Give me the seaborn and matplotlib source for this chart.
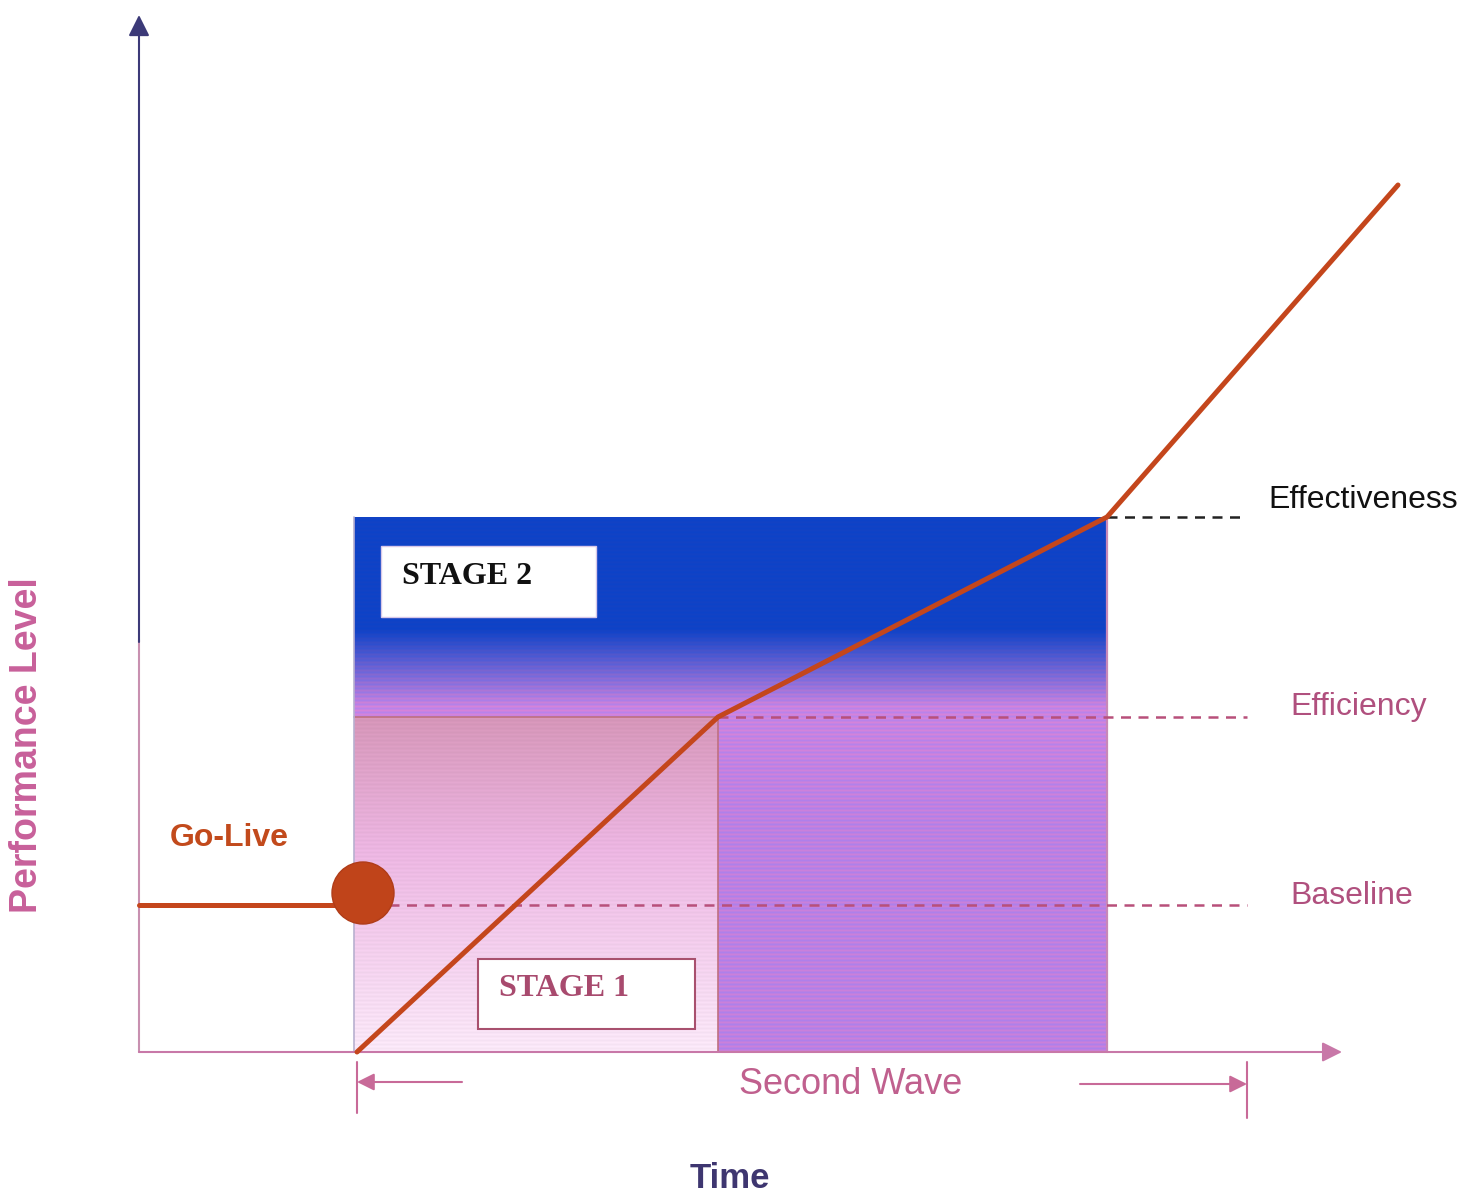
import numpy as np
import pandas as pd
import matplotlib
matplotlib.use("Agg")
import matplotlib.pyplot as plt
import seaborn as sns
from matplotlib.patches import Rectangle, Circle

# Performance path over time (conceptual units)
path_time = [0.0, 2.18, 2.18, 5.79, 9.68, 12.59]
path_level = [1.47, 1.47, 0.0, 3.35, 5.35, 8.67]
path_segment = ["pre", "pre", "wave", "wave", "wave", "wave"]

# Reference performance levels
level_names = ["Effectiveness", "Efficiency", "Baseline"]
level_values = [5.35, 3.35, 1.47]
level_line_start = [9.68, 5.79, 2.50]
level_colors = ["#222222", "#b8507a", "#b8507a"]
level_text_colors = ["#111111", "#b0507e", "#b0507e"]
level_text_x = [11.29, 11.51, 11.51]
level_text_offset = [0.17, 0.10, 0.09]

# Stage boundaries in time
go_live_t = 2.18
stage1_end = 5.79
stage2_end = 9.68
wave_end = 11.08

sns.set_theme(style="white")
plt.rcParams["font.family"] = ["Liberation Sans", "DejaVu Sans"]

fig = plt.figure(figsize=(14.65, 12), dpi=100)
ax = fig.add_axes([0, 0, 1, 1])
ax.set_xlim(-1.39, 13.26)
ax.set_ylim(-1.48, 10.52)
ax.axis("off")

top_y = level_values[0]
eff_y = level_values[1]

# --- Stage 2 block: vertical gradient from deep blue at top to violet ---
h = 535
blue = np.array([16, 66, 198]) / 255
violet_top = np.array([200, 132, 226]) / 255
violet = np.array([188, 128, 226]) / 255
stripe = np.array([14, 0, -8]) / 255
img = np.zeros((h, 1, 3))
for i in range(h):
    d = (1 - i / (h - 1)) * 535              # distance below the top edge
    if d < 112:
        c = blue
        s = 0.2
    elif d < 190:
        f = (d - 112) / 78
        c = blue * (1 - f) + violet_top * f
        s = 0.2 + 0.8 * f
    else:
        f = min((d - 190) / 120, 1)
        c = violet_top * (1 - f) + violet * f
        s = 1.0
    # printed-gradient banding: alternating pinkish and bluish rows
    c = c + s * stripe * np.sin(i * np.pi / 2.0)
    img[i, 0] = c
img = np.clip(img, 0, 1)
ax.imshow(img, extent=[2.15, stage2_end, 0, top_y], origin="lower",
          aspect="auto", interpolation="nearest", zorder=1)

# --- Stage 1 block: dusty rose fading to pale pink ---
h1 = 335
rose = np.array([214, 150, 185]) / 255
mid = np.array([236, 182, 226]) / 255
pale = np.array([250, 232, 248]) / 255
img1 = np.zeros((h1, 1, 3))
for i in range(h1):
    f = i / (h1 - 1)                          # 0 bottom .. 1 top
    if f > 0.6:
        g = (f - 0.6) / 0.4
        c = mid * (1 - g) + rose * g
    else:
        g = f / 0.6
        c = pale * (1 - g) + mid * g
    img1[i, 0] = c
band1 = 1 + 0.015 * np.sin(np.arange(h1) * np.pi / 2.0)[:, None, None]
img1 = np.clip(img1 * band1, 0, 1)
ax.imshow(img1, extent=[2.15, stage1_end, 0, eff_y], origin="lower",
          aspect="auto", interpolation="nearest", zorder=2)
ax.plot([2.15, stage1_end, stage1_end], [eff_y, eff_y, 0], color="#c07080",
        lw=1.2, zorder=3)
ax.plot([stage2_end, stage2_end], [0, top_y], color="#c888b8", lw=1.6, zorder=3)
ax.plot([2.15, 2.15], [0, top_y], color="#b8b0d0", lw=1.2, zorder=3)

ax.set_xlim(-1.39, 13.26)
ax.set_ylim(-1.48, 10.52)

# --- Axes with arrow heads ---
ax.plot([0, 0], [0, 4.12], color="#c890b0", lw=1.5, zorder=4)
ax.annotate("", xy=(0, 10.37), xytext=(0, 4.10),
            arrowprops=dict(arrowstyle="-|>", color="#3c3a78", lw=1.5,
                            mutation_scale=32, shrinkA=0, shrinkB=0), zorder=4)
ax.annotate("", xy=(12.03, 0), xytext=(0, 0),
            arrowprops=dict(arrowstyle="-|>", color="#c878a8", lw=1.5,
                            mutation_scale=30, shrinkA=0, shrinkB=0), zorder=4)

# --- Reference level dashed lines and labels ---
for name, val, start, lc, tc, tx, off in zip(level_names, level_values,
                                             level_line_start, level_colors,
                                             level_text_colors, level_text_x,
                                             level_text_offset):
    seg = pd.DataFrame({"t": [start, wave_end], "v": [val, val]})
    sns.lineplot(data=seg, x="t", y="v", ax=ax, color=lc, lw=1.8,
                 linestyle=(0, (4, 3)), zorder=5)
    ax.text(tx, val + off, name, color=tc, fontsize=23, va="center",
            ha="left", zorder=6)

# --- Stage labels ---
ax.add_patch(Rectangle((2.42, 4.35), 2.15, 0.71, facecolor="white",
                       edgecolor="#d8c8e8", lw=1, zorder=6))
ax.text(2.63, 4.76, "STAGE 2", fontsize=23, fontweight="bold",
        family=["Liberation Serif", "DejaVu Serif"], color="#111111",
        va="center", ha="left", zorder=7)
ax.add_patch(Rectangle((3.39, 0.23), 2.17, 0.70, facecolor="white",
                       edgecolor="#a8506e", lw=1.5, zorder=6))
ax.text(3.60, 0.63, "STAGE 1", fontsize=23, fontweight="bold",
        family=["Liberation Serif", "DejaVu Serif"], color="#a84a6e",
        va="center", ha="left", zorder=7)

# --- Performance path ---
path = pd.DataFrame({"time": path_time, "level": path_level,
                     "segment": path_segment})
sns.lineplot(data=path[path.segment == "pre"], x="time", y="level", ax=ax,
             sort=False, color="#c4461c", lw=3.6, zorder=8)
sns.lineplot(data=path[path.segment == "wave"], x="time", y="level", ax=ax,
             sort=False, color="#c4461c", lw=3.6, zorder=8)
ax.add_patch(Circle((2.24, 1.59), 0.31, facecolor="#c0441a",
                    edgecolor="#b03c18", lw=1, zorder=9))
ax.text(0.31, 2.14, "Go-Live", color="#c24a1c", fontsize=23,
        fontweight="bold", va="center", ha="left", zorder=9)

# --- Second Wave span ---
wave_color = "#c86a98"
ax.plot([go_live_t, go_live_t], [-0.10, -0.61], color=wave_color, lw=1.5)
ax.plot([wave_end, wave_end], [-0.10, -0.66], color=wave_color, lw=1.5)
ax.annotate("", xy=(go_live_t, -0.30), xytext=(3.23, -0.30),
            arrowprops=dict(arrowstyle="-|>", color=wave_color, lw=1.5,
                            mutation_scale=26, shrinkA=0, shrinkB=0))
ax.annotate("", xy=(wave_end, -0.32), xytext=(9.41, -0.32),
            arrowprops=dict(arrowstyle="-|>", color=wave_color, lw=1.5,
                            mutation_scale=26, shrinkA=0, shrinkB=0))
ax.text(7.12, -0.32, "Second Wave", color="#c0608e", fontsize=26,
        va="center", ha="center")

# --- Axis titles ---
ax.text(5.91, -1.27, "Time", color="#3e3670", fontsize=25, fontweight="bold",
        va="center", ha="center")
ax.text(-1.12, 3.07, "Performance Level", color="#c8609a", fontsize=27,
        fontweight="bold", rotation=90, va="center", ha="center")

fig.savefig("out.png", dpi=100)
